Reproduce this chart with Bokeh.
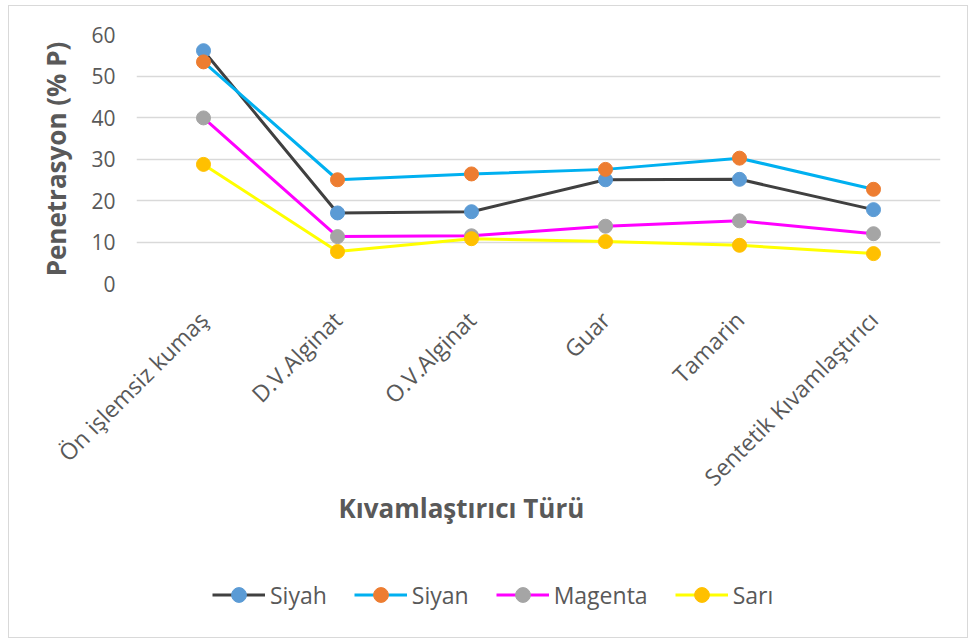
import math
from bokeh.plotting import figure
from bokeh.layouts import column
from bokeh.models import FactorRange, Range1d, Legend, LegendItem, FixedTicker, Title
from bokeh.embed import file_html
from bokeh.resources import INLINE

# ---- data ----
categories = ["Ön işlemsiz kumaş", "D.V.Alginat", "O.V.Alginat", "Guar", "Tamarin",
              "Sentetik Kıvamlaştırıcı"]
siyah = [56.1, 17.0, 17.3, 25.0, 25.1, 17.8]
siyan = [53.4, 25.0, 26.4, 27.5, 30.2, 22.7]
magenta = [39.9, 11.3, 11.5, 13.8, 15.1, 12.0]
sari = [28.7, 7.7, 10.8, 10.1, 9.2, 7.2]
series_names = ["Siyah", "Siyan", "Magenta", "Sarı"]
y_ticks = [0, 10, 20, 30, 40, 50, 60]
y_title = "Penetrasyon (% P)"
x_title = "Kıvamlaştırıcı Türü"

# ---- styles ----
line_colors = ["#404040", "#00B0F0", "#FF00FF", "#FFFF00"]
marker_colors = ["#5B9BD5", "#ED7D31", "#A5A5A5", "#FFC000"]
TEXT = "#595959"
FONT = "Open Sans"
series = [siyah, siyan, magenta, sari]

# ---- main chart ----
p = figure(x_range=FactorRange(*categories), y_range=Range1d(0, 60),
           width=958, height=527, output_backend="svg", toolbar_location=None,
           min_border_left=127, min_border_right=27, min_border_top=28,
           min_border_bottom=250)
p.outline_line_color = None
p.background_fill_color = "white"
p.border_fill_color = "white"

p.xgrid.grid_line_color = None
p.ygrid.grid_line_color = "#D9D9D9"
p.ygrid.grid_line_width = 1.5

for ax in (p.xaxis[0], p.yaxis[0]):
    ax.axis_line_color = None
    ax.major_tick_line_color = None
    ax.minor_tick_line_color = None
    ax.major_label_text_font = FONT
    ax.major_label_text_color = TEXT

p.yaxis.ticker = FixedTicker(ticks=y_ticks)
p.yaxis.major_label_text_font_size = "21px"
p.yaxis.major_label_standoff = 15
p.yaxis.axis_label = y_title
p.yaxis.axis_label_text_font = FONT
p.yaxis.axis_label_text_font_style = "bold"
p.yaxis.axis_label_text_font_size = "26px"
p.yaxis.axis_label_text_color = TEXT
p.yaxis.axis_label_standoff = 14

p.xaxis.major_label_orientation = math.pi / 4
p.xaxis.major_label_text_font_size = "23px"
p.xaxis.major_label_standoff = 26

for vals, lc, mc in zip(series, line_colors, marker_colors):
    p.line(categories, vals, line_color=lc, line_width=3)
    p.scatter(categories, vals, size=14, fill_color=mc, line_color=mc)

xt = Title(text=x_title, align="left", offset=202, vertical_align="top", standoff=-34,
           text_font=FONT, text_font_style="bold", text_font_size="26px",
           text_color=TEXT)
p.add_layout(xt, "below")

# ---- lower strip: legend (frame aligned with the chart above) ----
q = figure(x_range=FactorRange(*categories), y_range=Range1d(100, 101),
           width=958, height=104, output_backend="svg", toolbar_location=None,
           x_axis_type=None, y_axis_type=None,
           min_border_left=0, min_border_right=0, min_border_top=0,
           min_border_bottom=0)
q.outline_line_color = None
q.background_fill_color = "white"
q.border_fill_color = "white"

items = []
for name, vals, lc, mc in zip(series_names, series, line_colors, marker_colors):
    lr = q.line(categories, vals, line_color=lc, line_width=3)
    sr = q.scatter(categories, vals, size=14, fill_color=mc, line_color=mc)
    items.append(LegendItem(label=name, renderers=[lr, sr]))

legend = Legend(items=items, location=(76, 24), orientation="horizontal",
                glyph_width=53, glyph_height=37, label_standoff=5, spacing=27,
                padding=0, margin=0, border_line_color=None,
                background_fill_alpha=0, label_text_font=FONT,
                label_text_font_size="23px", label_text_color=TEXT)
q.add_layout(legend)

layout = column(p, q, spacing=0)
layout.margin = (5, 0, 0, 8)
layout.styles = {"border": "1px solid #D9D9D9"}

open("out.html", "w").write(file_html(layout, INLINE))
